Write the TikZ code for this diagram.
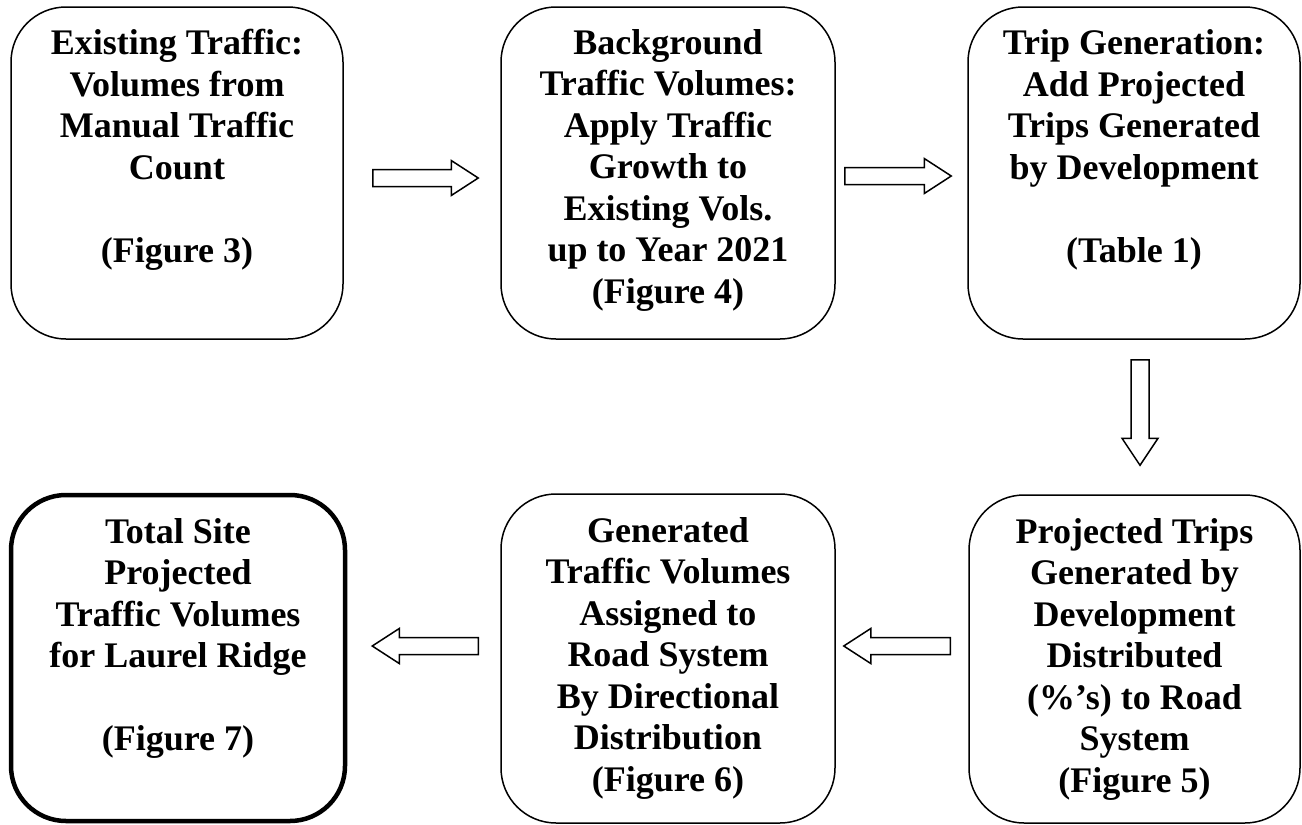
\documentclass[tikz,border=0pt]{standalone}
\usepackage{fontspec}
\setmainfont{Liberation Serif}
\usetikzlibrary{calc}
\newcommand{\rblock}[2]{\draw[blk] ($(#1)+(0,-8.5)$) -- ($(#2)+(-27,-8.5)$) -- ($(#2)+(-27,-17.5)$) -- (#2) -- ($(#2)+(-27,17.5)$) -- ($(#2)+(-27,8.5)$) -- ($(#1)+(0,8.5)$) -- cycle;}
\newcommand{\lblock}[2]{\draw[blk] ($(#1)+(0,-8.5)$) -- ($(#2)+(27,-8.5)$) -- ($(#2)+(27,-17.5)$) -- (#2) -- ($(#2)+(27,17.5)$) -- ($(#2)+(27,8.5)$) -- ($(#1)+(0,8.5)$) -- cycle;}
\newcommand{\dblock}[2]{\draw[blk] ($(#1)+(-9,0)$) -- ($(#2)+(-9,-27)$) -- ($(#2)+(-18,-27)$) -- (#2) -- ($(#2)+(18,-27)$) -- ($(#2)+(9,-27)$) -- ($(#1)+(9,0)$) -- cycle;}
\begin{document}
\begin{tikzpicture}[x=1pt,y=-1pt,
  box/.style={draw, line width=1.5pt, rounded corners=55pt, minimum width=332pt, minimum height=332pt, inner sep=0pt},
  endbox/.style={box, line width=4.5pt},
  txt/.style={font=\fontsize{36}{41.5}\selectfont\bfseries, align=center, inner sep=0pt, anchor=base},
  blk/.style={draw, line width=1.5pt, fill=white, line join=miter}]
\useasboundingbox (0,0) rectangle (1302,825);
% boxes
\node[box] (b1) at (177,173) {};
\node[box, minimum width=334pt] (b2) at (668,173) {};
\node[box] (b3) at (1134,173) {};
\node[endbox, minimum width=334pt, minimum height=326pt] (b4) at (178,658) {};
\node[box, minimum width=334pt, minimum height=329pt] (b5) at (668,658.5) {};
\node[box, minimum width=331pt, minimum height=328pt] (b6) at (1134.5,659) {};
% texts (base anchor = baseline of the last line)
\node[txt] (t1) at ($(b1.north)+(0,256)$) {Existing Traffic:\\Volumes from\\Manual Traffic\\Count\\[41.5pt](Figure 3)};
\node[txt] (t2) at ($(b2.north)+(0,297)$) {Background\\Traffic Volumes:\\Apply Traffic\\Growth to\\Existing Vols.\\up to Year 2021\\(Figure 4)};
\node[txt] (t3) at ($(b3.north)+(0,256)$) {Trip Generation:\\Add Projected\\Trips Generated\\by Development\\[41.5pt](Table 1)};
\node[txt] (t4) at ($(b4.north)+(0,258)$) {Total Site\\Projected\\Traffic Volumes\\for Laurel Ridge\\[41.5pt](Figure 7)};
\node[txt] (t5) at ($(b5.north)+(0,298)$) {Generated\\Traffic Volumes\\Assigned to\\Road System\\By Directional\\Distribution\\(Figure 6)};
\node[txt] (t6) at ($(b6.north)+(0,298)$) {Projected Trips\\Generated by\\Development\\Distributed\\(\%’s) to Road\\System\\(Figure 5)};
% arrows
\coordinate (a1s) at ($(b1.east)+(29,5)$);
\coordinate (a1e) at ($(b2.west)+(-22,5)$);
\coordinate (a2s) at ($(b2.east)+(9,3)$);
\coordinate (a2e) at ($(b3.west)+(-16,3)$);
\coordinate (a3s) at ($(b3.south)+(6,20)$);
\coordinate (a3e) at ($(b6.north)+(5.5,-29)$);
\coordinate (a4s) at ($(b6.west)+(-18,-13)$);
\coordinate (a4e) at ($(b5.east)+(8,-12.5)$);
\coordinate (a5s) at ($(b5.west)+(-22,-12.5)$);
\coordinate (a5e) at ($(b4.east)+(25,-12)$);
\rblock{a1s}{a1e}
\rblock{a2s}{a2e}
\dblock{a3s}{a3e}
\lblock{a4s}{a4e}
\lblock{a5s}{a5e}
\end{tikzpicture}
\end{document}
